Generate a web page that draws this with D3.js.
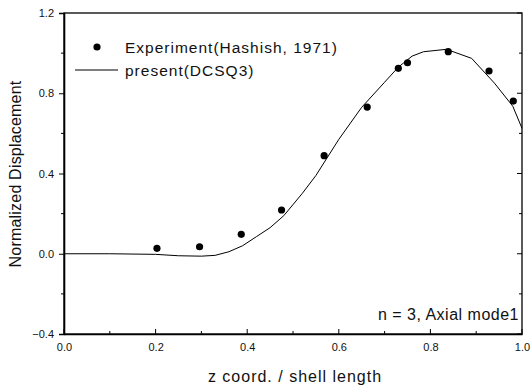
<!DOCTYPE html>
<html><head><meta charset="utf-8">
<script src="https://cdn.jsdelivr.net/npm/d3@7"></script>
<style>body{margin:0;background:#fff}svg{display:block}text{font-family:"Liberation Sans",Arial,sans-serif;fill:#111}</style>
</head><body><svg id="c" width="531" height="388"></svg>
<script>
const expX = [0.203, 0.296, 0.387, 0.475, 0.568, 0.662, 0.730, 0.750, 0.839, 0.928, 0.981];
const expY = [0.027, 0.035, 0.097, 0.218, 0.489, 0.731, 0.924, 0.952, 1.007, 0.911, 0.761];
const curveX = [0, 0.1, 0.2, 0.25, 0.3, 0.33, 0.36, 0.39, 0.42, 0.45, 0.48, 0.52, 0.55, 0.6, 0.65, 0.7, 0.73, 0.76, 0.785, 0.835, 0.89, 0.94, 0.98, 1.0];
const curveY = [0, 0, -0.003, -0.01, -0.012, -0.008, 0.01, 0.04, 0.085, 0.13, 0.19, 0.30, 0.39, 0.57, 0.73, 0.855, 0.93, 0.985, 1.007, 1.019, 0.974, 0.85, 0.735, 0.625];
const xTicks = [0.0, 0.2, 0.4, 0.6, 0.8, 1.0];
const yTicks = [-0.4, 0.0, 0.4, 0.8, 1.2];
const legendLabels = ["Experiment(Hashish, 1971)", "present(DCSQ3)"];
const annotation = "n = 3, Axial mode1";
const xTitle = "z coord. / shell length";
const yTitle = "Normalized Displacement";

const svg = d3.select("#c");
const L = 64, R = 522, T = 13, B = 334;
const x = d3.scaleLinear().domain([0, 1]).range([L, R]);
const y = d3.scaleLinear().domain([-0.4, 1.2]).range([B, T]);
const fmt = d3.format(".1f");

// frame
svg.append("rect").attr("x", L).attr("y", T).attr("width", R - L).attr("height", B - T)
  .attr("fill", "none").attr("stroke", "#000").attr("stroke-width", 1.3);

// axes
const left = svg.append("g").attr("transform", `translate(${L},0)`)
  .call(d3.axisLeft(y).tickValues(yTicks).tickFormat(fmt).tickSize(5).tickPadding(5));
const bottom = svg.append("g").attr("transform", `translate(0,${B})`)
  .call(d3.axisBottom(x).tickValues(xTicks).tickFormat(fmt).tickSize(0).tickPadding(9));
[left, bottom].forEach(g => {
  g.select(".domain").attr("stroke", "#000").attr("stroke-width", 1.6);
  g.selectAll("text").style("font-size", "11px").style("font-family", "Liberation Sans, Arial, sans-serif");
});
// minor left ticks
const yMinor = d3.range(-0.2, 1.21, 0.4);
svg.append("g").selectAll("line").data(yMinor).join("line")
  .attr("x1", L - 3).attr("x2", L).attr("y1", d => y(d)).attr("y2", d => y(d)).attr("stroke", "#000");
// bottom ticks (inward)
const xAll = d3.range(0, 1.01, 0.1);
svg.append("g").selectAll("line").data(xAll).join("line")
  .attr("x1", d => x(d)).attr("x2", d => x(d)).attr("y1", B).attr("y2", (d, i) => B - (i % 2 === 0 ? 5 : 3)).attr("stroke", "#000");
// right ticks (inward)
const yAll = d3.range(-0.4, 1.21, 0.2);
svg.append("g").selectAll("line").data(yAll).join("line")
  .attr("x1", R).attr("x2", (d, i) => R - (i % 2 === 0 ? 5 : 3)).attr("y1", d => y(d)).attr("y2", d => y(d)).attr("stroke", "#000");

// curve
svg.append("path").datum(curveX.map((v, i) => [v, curveY[i]]))
  .attr("fill", "none").attr("stroke", "#000").attr("stroke-width", 1)
  .attr("d", d3.line().x(d => x(d[0])).y(d => y(d[1])));

// points
svg.append("g").selectAll("circle").data(expX.map((v, i) => [v, expY[i]])).join("circle")
  .attr("cx", d => x(d[0])).attr("cy", d => y(d[1])).attr("r", 3.6).attr("fill", "#000");

// legend
svg.append("circle").attr("cx", 97).attr("cy", 47).attr("r", 3.6).attr("fill", "#000");
svg.append("text").attr("x", 125).attr("y", 52.5).style("font-size", "15.5px").style("letter-spacing", "1px").text(legendLabels[0]);
svg.append("line").attr("x1", 75).attr("x2", 118).attr("y1", 70).attr("y2", 70).attr("stroke", "#000");
svg.append("text").attr("x", 125).attr("y", 75.5).style("font-size", "15.5px").style("letter-spacing", "1px").text(legendLabels[1]);

// annotation
svg.append("text").attr("x", 519).attr("y", 320).attr("text-anchor", "end").style("font-size", "16px").style("letter-spacing", "0.5px").text(annotation);

// titles
svg.append("text").attr("x", 295).attr("y", 382).attr("text-anchor", "middle").style("font-size", "16px").style("letter-spacing", "1px").text(xTitle);
svg.append("text").attr("transform", `translate(21,${174}) rotate(-90)`).attr("text-anchor", "middle").style("font-size", "16px").style("letter-spacing", "0.2px").text(yTitle);
</script></body></html>
